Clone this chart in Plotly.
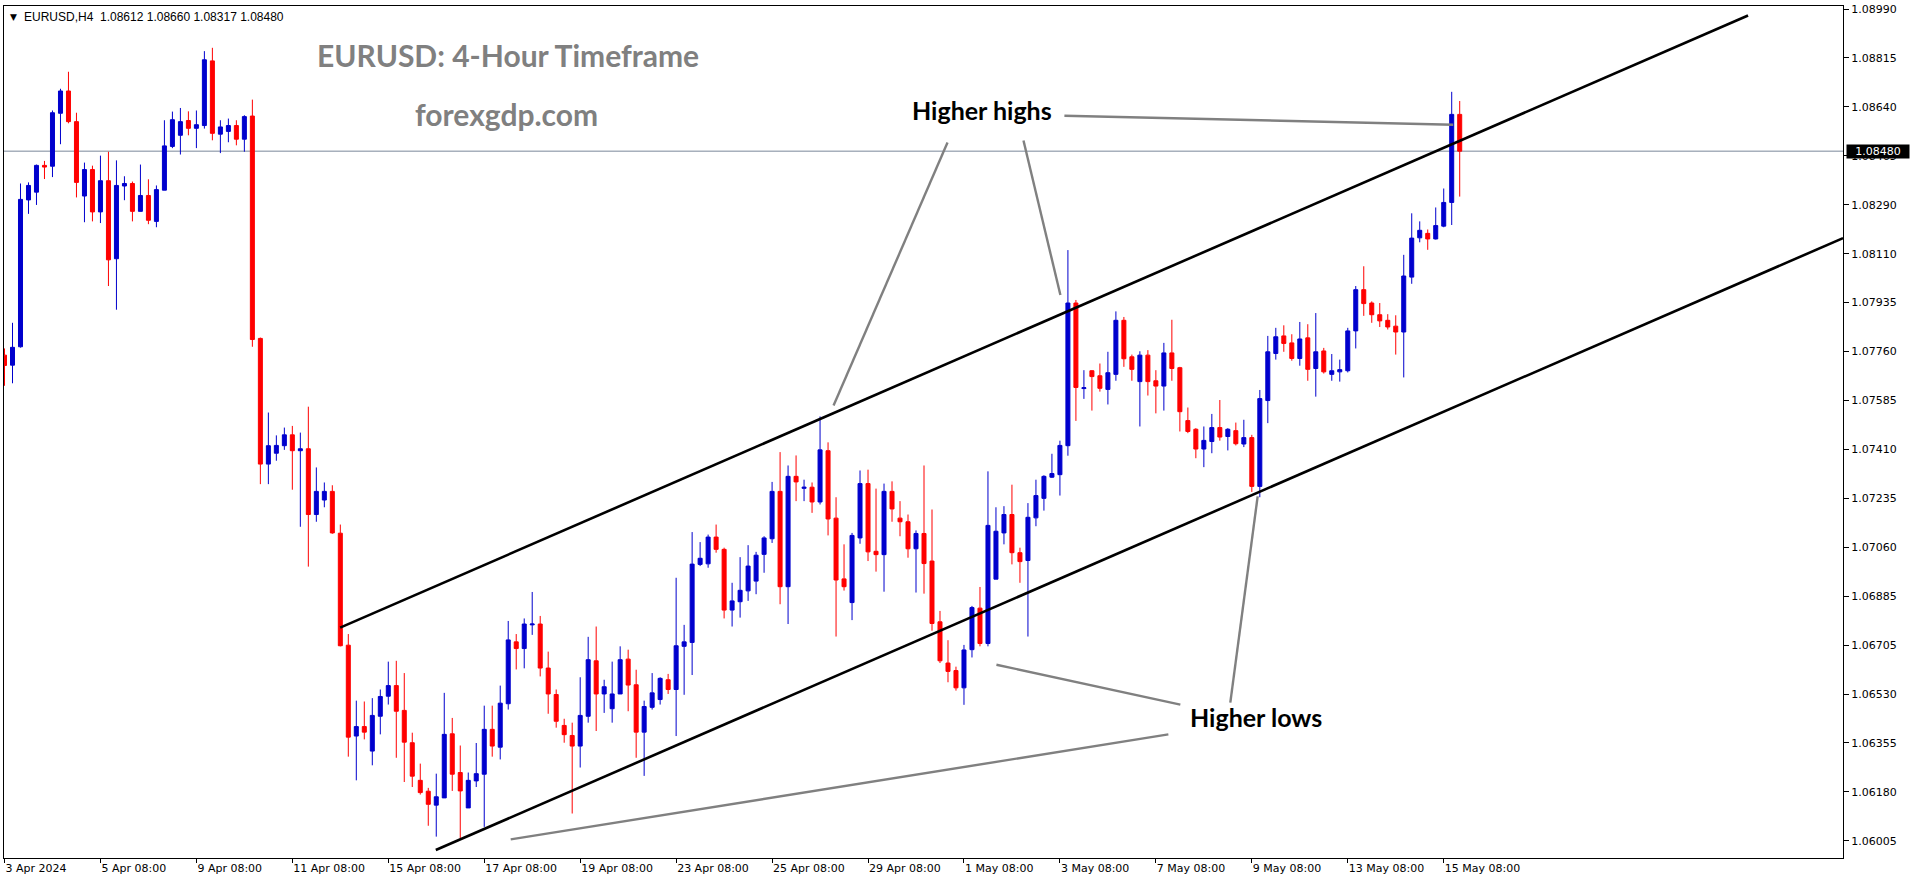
import plotly.graph_objects as go

# ---------------- data (EURUSD H4) ----------------
opens = [1.07748,1.07712,1.07778,1.08305,1.08333,1.08429,1.08426,1.08616,1.08696,1.08586,
         1.08319,1.08414,1.08262,1.08374,1.08094,1.08355,1.08364,1.08264,1.08321,1.08228,
         1.08340,1.08497,1.08537,1.08590,1.08562,1.08572,1.08804,1.08541,1.08551,1.08572,
         1.08523,1.08606,1.07808,1.07357,1.07396,1.07423,1.07462,1.07405,1.07412,1.07176,
         1.07228,1.07259,1.07109,1.06707,1.06381,1.06415,1.06327,1.06452,1.06524,1.06562,
         1.06473,1.06357,1.06222,1.06183,1.06133,1.06159,1.06389,1.06250,1.06123,1.06220,
         1.06244,1.06405,1.06341,1.06497,1.06719,1.06695,1.06780,1.06783,1.06625,1.06530,
         1.06419,1.06383,1.06345,1.06452,1.06651,1.06532,1.06479,1.06532,1.06657,1.06565,
         1.06395,1.06484,1.06512,1.06583,1.06548,1.06703,1.06717,1.06997,1.06999,1.07095,
         1.07051,1.06833,1.06863,1.06902,1.06937,1.07033,1.07089,1.07259,1.06917,1.07313,
         1.07270,1.07274,1.07221,1.07405,1.07163,1.06945,1.06860,1.07092,1.07287,1.07044,
         1.07032,1.07259,1.07163,1.07150,1.07053,1.07108,1.07009,1.06791,1.06643,1.06616,
         1.06554,1.06691,1.06840,1.06713,1.06944,1.07110,1.07176,1.07039,1.07011,1.07164,
         1.07234,1.07310,1.07319,1.07423,1.07935,1.07628,1.07692,1.07674,1.07625,1.07679,
         1.07873,1.07742,1.07653,1.07748,1.07656,1.07637,1.07756,1.07703,1.07513,1.07482,
         1.07411,1.07438,1.07488,1.07456,1.07477,1.07429,1.07452,1.07277,1.07585,1.07754,
         1.07817,1.07792,1.07736,1.07810,1.07700,1.07763,1.07679,1.07688,1.07692,1.07835,
         1.07983,1.07935,1.07893,1.07873,1.07852,1.07831,1.08028,1.08169,1.08185,1.08165,
         1.08211,1.08296,1.08612]
highs = [1.07772,1.07864,1.08364,1.08368,1.08432,1.08445,1.08626,1.08704,1.08765,1.08618,
         1.08439,1.08428,1.08464,1.08478,1.08447,1.08390,1.08371,1.08432,1.08379,1.08357,
         1.08591,1.08622,1.08635,1.08623,1.08626,1.08839,1.08851,1.08591,1.08597,1.08591,
         1.08609,1.08665,1.07811,1.07542,1.07460,1.07488,1.07494,1.07470,1.07563,1.07345,
         1.07291,1.07281,1.07140,1.06747,1.06508,1.06505,1.06517,1.06548,1.06648,1.06651,
         1.06607,1.06393,1.06282,1.06195,1.06246,1.06536,1.06446,1.06347,1.06250,1.06356,
         1.06490,1.06490,1.06562,1.06794,1.06747,1.06803,1.06898,1.06812,1.06684,1.06548,
         1.06443,1.06429,1.06592,1.06737,1.06774,1.06583,1.06648,1.06703,1.06691,1.06619,
         1.06508,1.06607,1.06592,1.06604,1.06949,1.06780,1.07113,1.07077,1.07104,1.07140,
         1.07057,1.06931,1.07023,1.07066,1.07042,1.07098,1.07293,1.07400,1.07352,1.07388,
         1.07301,1.07291,1.07528,1.07435,1.07238,1.07069,1.07110,1.07334,1.07337,1.07269,
         1.07287,1.07295,1.07224,1.07176,1.07119,1.07352,1.07194,1.06830,1.06725,1.06630,
         1.06708,1.06848,1.06916,1.07331,1.07202,1.07206,1.07283,1.07057,1.07217,1.07301,
         1.07317,1.07394,1.07441,1.08125,1.07946,1.07694,1.07694,1.07718,1.07760,1.07905,
         1.07885,1.07750,1.07762,1.07766,1.07694,1.07792,1.07875,1.07706,1.07560,1.07486,
         1.07492,1.07537,1.07587,1.07486,1.07506,1.07516,1.07462,1.07623,1.07817,1.07846,
         1.07855,1.07823,1.07867,1.07859,1.07899,1.07774,1.07752,1.07732,1.07846,1.07996,
         1.08067,1.07941,1.07935,1.07895,1.07891,1.08108,1.08257,1.08228,1.08199,1.08278,
         1.08346,1.08693,1.08660]
lows = [1.07638,1.07647,1.07775,1.08255,1.08287,1.08380,1.08387,1.08505,1.08580,1.08314,
        1.08225,1.08228,1.08222,1.07996,1.07911,1.08304,1.08228,1.08264,1.08218,1.08207,
        1.08340,1.08491,1.08468,1.08537,1.08491,1.08561,1.08519,1.08473,1.08512,1.08501,
        1.08478,1.07778,1.07285,1.07285,1.07369,1.07408,1.07265,1.07132,1.06989,1.07150,
        1.07202,1.07107,1.06703,1.06307,1.06222,1.06369,1.06276,1.06387,1.06494,1.06303,
        1.06216,1.06198,1.06171,1.06059,1.06020,1.06159,1.06184,1.06014,1.06123,1.06198,
        1.06055,1.06307,1.06297,1.06476,1.06620,1.06624,1.06744,1.06595,1.06461,1.06411,
        1.06357,1.06103,1.06268,1.06429,1.06399,1.06464,1.06429,1.06532,1.06470,1.06303,
        1.06238,1.06476,1.06494,1.06532,1.06381,1.06529,1.06600,1.06991,1.06985,1.07039,
        1.06803,1.06774,1.06806,1.06866,1.06890,1.06967,1.07074,1.06854,1.06783,1.07224,
        1.07224,1.07182,1.07212,1.07101,1.06738,1.06903,1.06797,1.07071,1.07009,1.06971,
        1.06899,1.07150,1.07098,1.07021,1.06896,1.06892,1.06759,1.06643,1.06574,1.06544,
        1.06493,1.06663,1.06703,1.06703,1.06944,1.07069,1.06997,1.06931,1.06738,1.07134,
        1.07190,1.07307,1.07244,1.07387,1.07512,1.07591,1.07549,1.07617,1.07571,1.07656,
        1.07706,1.07656,1.07492,1.07603,1.07539,1.07549,1.07656,1.07474,1.07468,1.07378,
        1.07346,1.07396,1.07441,1.07406,1.07424,1.07418,1.07257,1.07238,1.07504,1.07732,
        1.07760,1.07728,1.07710,1.07656,1.07599,1.07682,1.07656,1.07653,1.07686,1.07772,
        1.07889,1.07864,1.07849,1.07840,1.07750,1.07668,1.08004,1.08153,1.08126,1.08163,
        1.08207,1.08215,1.08317]
closes = [1.07711,1.07776,1.08307,1.08357,1.08429,1.08423,1.08618,1.08696,1.08586,1.08368,
          1.08414,1.08262,1.08374,1.08090,1.08357,1.08364,1.08264,1.08321,1.08232,1.08342,
          1.08499,1.08593,1.08586,1.08562,1.08575,1.08808,1.08544,1.08567,1.08572,1.08523,
          1.08604,1.07804,1.07357,1.07423,1.07424,1.07462,1.07405,1.07412,1.07176,1.07259,
          1.07259,1.07110,1.06705,1.06377,1.06415,1.06395,1.06455,1.06523,1.06562,1.06470,
          1.06359,1.06237,1.06178,1.06136,1.06163,1.06387,1.06244,1.06184,1.06222,1.06246,
          1.06405,1.06345,1.06499,1.06726,1.06695,1.06783,1.06783,1.06625,1.06532,1.06434,
          1.06386,1.06345,1.06455,1.06655,1.06532,1.06558,1.06532,1.06655,1.06564,1.06395,
          1.06487,1.06536,1.06588,1.06548,1.06705,1.06719,1.06998,1.07019,1.07095,1.07051,
          1.06833,1.06866,1.06904,1.06991,1.07030,1.07092,1.07259,1.06917,1.07313,1.07293,
          1.07274,1.07221,1.07408,1.07160,1.06941,1.06917,1.07101,1.07287,1.07042,1.07032,
          1.07259,1.07196,1.07150,1.07053,1.07108,1.07000,1.06785,1.06651,1.06613,1.06554,
          1.06690,1.06842,1.06713,1.07137,1.07116,1.07176,1.07039,1.07007,1.07166,1.07244,
          1.07313,1.07323,1.07424,1.07935,1.07632,1.07631,1.07671,1.07629,1.07685,1.07873,
          1.07735,1.07697,1.07748,1.07653,1.07637,1.07756,1.07700,1.07545,1.07474,1.07411,
          1.07442,1.07488,1.07454,1.07482,1.07430,1.07452,1.07277,1.07592,1.07760,1.07814,
          1.07790,1.07736,1.07806,1.07697,1.07760,1.07688,1.07692,1.07696,1.07835,1.07983,
          1.07933,1.07893,1.07871,1.07849,1.07831,1.08032,1.08168,1.08196,1.08165,1.08213,
          1.08296,1.08612,1.08480]

tick_index = [0, 12, 24, 36, 48, 60, 72, 84, 96, 108, 120, 132, 144, 156, 168, 180]
tick_labels = ["3 Apr 2024", "5 Apr 08:00", "9 Apr 08:00", "11 Apr 08:00", "15 Apr 08:00",
               "17 Apr 08:00", "19 Apr 08:00", "23 Apr 08:00", "25 Apr 08:00", "29 Apr 08:00",
               "1 May 08:00", "3 May 08:00", "7 May 08:00", "9 May 08:00", "13 May 08:00",
               "15 May 08:00"]
price_labels = ["1.06005", "1.06180", "1.06355", "1.06530", "1.06705", "1.06885", "1.07060",
                "1.07235", "1.07410", "1.07585", "1.07760", "1.07935", "1.08110", "1.08290",
                "1.08465", "1.08640", "1.08815", "1.08990"]
price_step = 0.00175588
price_ticks = [1.06005 + k * price_step for k in range(len(price_labels))]

last_price = 1.08480
header = "EURUSD,H4  1.08612 1.08660 1.08317 1.08480"

# trend channel (bar index, price)
channel_upper = [(41.98, 1.06770), (218.06, 1.08967)]
channel_lower = [(53.94, 1.05972), (229.94, 1.08168)]
# pointer lines (bar index, price)
pointers = [
    [(117.94, 1.08511), (103.69, 1.07567)],
    [(127.44, 1.08518), (132.06, 1.07964)],
    [(132.56, 1.08607), (181.19, 1.08575)],
    [(147.06, 1.06494), (124.06, 1.06637)],
    [(145.56, 1.06387), (63.31, 1.06010)],
    [(153.31, 1.06501), (156.73, 1.07241)],
]
labels_text = [
    ("EURUSD: 4-Hour Timeframe", 62.94, 1.08826, "#808080"),
    ("forexgdp.com", 62.75, 1.08615, "#808080"),
    ("Higher highs", 122.25, 1.08629, "#000000"),
    ("Higher lows", 156.56, 1.06448, "#000000"),
]

x = list(range(len(opens)))

fig = go.Figure()
fig.add_trace(go.Candlestick(
    x=x, open=opens, high=highs, low=lows, close=closes,
    increasing=dict(line=dict(color="#0000CD", width=1), fillcolor="#0000CD"),
    decreasing=dict(line=dict(color="#FF0000", width=1), fillcolor="#FF0000"),
    whiskerwidth=0, showlegend=False, hoverinfo="skip"))

shapes = []
shapes.append(dict(type="line", xref="paper", x0=0, x1=1, yref="y", y0=last_price, y1=last_price,
                   line=dict(color="#7A8899", width=1), layer="below"))
for seg in (channel_upper, channel_lower):
    shapes.append(dict(type="line", xref="x", yref="y", x0=seg[0][0], y0=seg[0][1],
                       x1=seg[1][0], y1=seg[1][1], line=dict(color="#000000", width=2.6)))
for seg in pointers:
    shapes.append(dict(type="line", xref="x", yref="y", x0=seg[0][0], y0=seg[0][1],
                       x1=seg[1][0], y1=seg[1][1], line=dict(color="#808080", width=2.4)))

annotations = []
for txt, ax_, ay_, col in labels_text:
    annotations.append(dict(text=txt, x=ax_, y=ay_, xref="x", yref="y", showarrow=False,
                            xanchor="center", yanchor="middle",
                            font=dict(family="Lato", size=30 if col == "#808080" else 25,
                                      color=col, weight="bold")))
annotations.append(dict(text="▼", xref="paper", yref="paper", x=0, y=1, xanchor="left",
                        yanchor="top", xshift=4, yshift=-4, showarrow=False,
                        font=dict(family="DejaVu Sans", size=9, color="#000000")))
annotations.append(dict(text=header, xref="paper", yref="paper", x=0, y=1, xanchor="left",
                        yanchor="top", xshift=18, yshift=-2, showarrow=False,
                        font=dict(family="Liberation Sans", size=12, color="#000000")))
annotations.append(dict(text="%.5f" % last_price, xref="paper", yref="y", x=1, y=last_price,
                        xanchor="left", yanchor="middle", xshift=3, showarrow=False,
                        bgcolor="#000000", width=62, height=13, borderpad=0,
                        font=dict(family="DejaVu Sans", size=11, color="#FFFFFF")))

fig.update_layout(
    width=1914, height=884,
    margin=dict(l=3, r=71, t=3, b=26),
    paper_bgcolor="#FFFFFF", plot_bgcolor="#FFFFFF",
    boxgap=0.5, boxgroupgap=0,
    shapes=shapes, annotations=annotations,
    showlegend=False, hovermode=False,
)
fig.update_xaxes(
    type="linear", range=[-0.0625, 229.9375], rangeslider_visible=False,
    tickvals=tick_index, ticktext=tick_labels, ticks="outside", ticklen=4,
    tickcolor="#000000", ticklabelposition="outside right", ticklabeloverflow="allow",
    tickfont=dict(family="DejaVu Sans", size=11, color="#000000"),
    showgrid=False, zeroline=False, showline=True, linecolor="#000000", linewidth=1,
    mirror=True, fixedrange=True)
fig.update_yaxes(
    side="right", range=[1.059433, 1.09001],
    tickvals=price_ticks, ticktext=price_labels, ticks="outside", ticklen=5,
    tickcolor="#000000", ticklabeloverflow="allow",
    tickfont=dict(family="DejaVu Sans", size=11, color="#000000"),
    showgrid=False, zeroline=False, showline=True, linecolor="#000000", linewidth=1,
    mirror=True, fixedrange=True)

fig.write_html("out.html")
